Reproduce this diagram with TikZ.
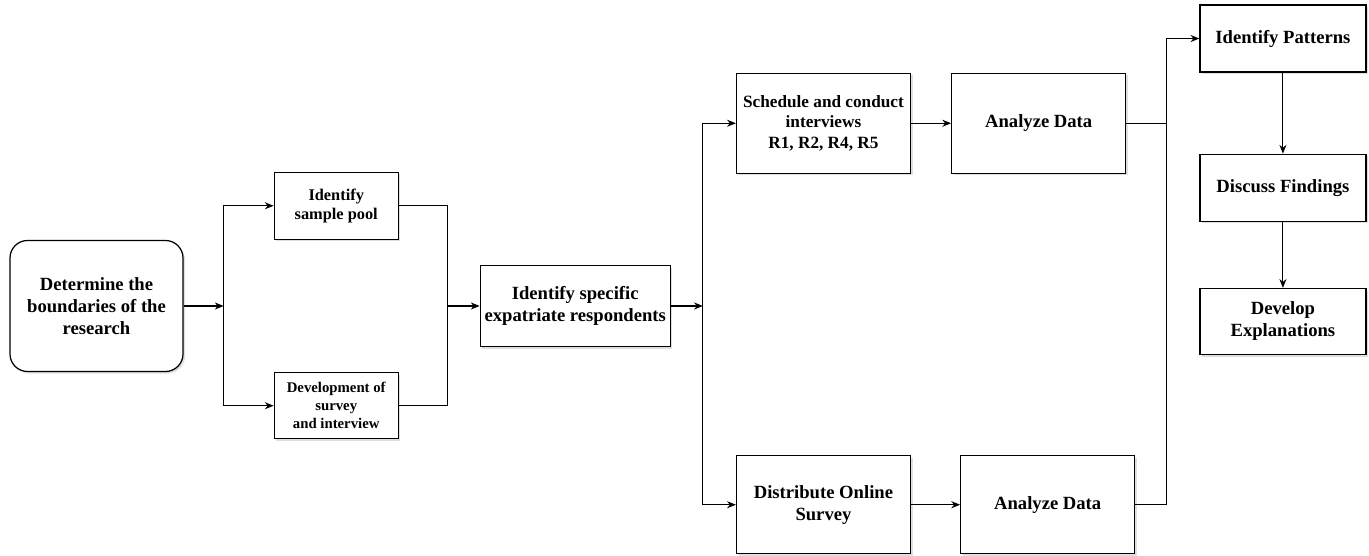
\documentclass[tikz,border=0pt]{standalone}
\usepackage{fontspec}
\setmainfont{Liberation Serif}
\usepackage{tikz}
\usetikzlibrary{positioning, arrows.meta, shadows}
\tikzset{main node/.style={rectangle, draw, line width=0.7pt, fill=white, align=center, inner sep=2pt, font=\bfseries\fontsize{10.6}{12.5}\selectfont, drop shadow={shadow xshift=1.2pt, shadow yshift=-1.2pt, opacity=0.25}},}

\begin{document}
\begin{tikzpicture}[-{Stealth[length=5pt,width=4pt]}, line width=0.6pt]
        \useasboundingbox (-1.93,-5.0) rectangle (25.45,6.12);
        % Nodes
        \node[main node, rounded corners=0.35cm, minimum width=3.46cm, minimum height=2.62cm] (1) {Determine the\\boundaries of the\\research};
        \node[main node, minimum width=2.48cm, minimum height=1.34cm, font=\bfseries\fontsize{9.3}{11}\selectfont] [above right = 0cm and 1.8cm of 1] (2) {Identify\\sample pool};
        \node[main node, minimum width=2.48cm, minimum height=1.32cm, font=\bfseries\fontsize{8.4}{10.2}\selectfont] [below right = 0cm and 1.8cm of 1] (3) {Development of\\survey\\and interview};
        \node[main node, minimum width=3.8cm, minimum height=1.62cm] [right = 5.92cm of 1] (4) {Identify specific\\expatriate respondents};
        \node[main node, minimum width=3.48cm, minimum height=2cm, font=\bfseries\fontsize{9.8}{11.8}\selectfont] [above right = 1.82cm and 1.3cm of 4] (5) {Schedule and conduct\\interviews\\R1, R2, R4, R5};
        \node[main node, minimum width=3.48cm, minimum height=1.96cm] [below right = 2.16cm and 1.3cm of 4] (6) {Distribute Online\\Survey};
        \node[main node, minimum width=3.48cm, minimum height=2cm] [right = 0.8cm of 5] (7) {Analyze Data};
        \node[main node, minimum width=3.48cm, minimum height=1.96cm] [right = 0.98cm of 6] (8) {Analyze Data};
        \node[main node, minimum width=3.32cm, minimum height=1.34cm] [above right = 0cm and 1.46cm of 7] (9) {Identify Patterns};
        \node[main node, minimum width=3.32cm, minimum height=1.34cm] [below = 1.62cm of 9] (10) {Discuss Findings};
        \node[main node, minimum width=3.32cm, minimum height=1.32cm] [below = 1.32cm of 10] (11) {Develop\\Explanations};
        % Junctions
        \coordinate[right = 0.8cm of 1] (j1);
        \coordinate[left = 0.64cm of 4] (j2);
        \coordinate[right = 0.64cm of 4] (j3);
        \coordinate[right = 0.8cm of 7] (j4);
        % Paths
        \draw (1) -- (j1);
        \draw (j1) |- (2);
        \draw (j1) |- (3);
        \draw[-] (2) -| (j2);
        \draw[-] (3) -| (j2);
        \draw (j2) -- (4);
        \draw (4) -- (j3);
        \draw (j3) |- (5);
        \draw (j3) |- (6);
        \path[draw]
        (5) edge (7)
        (6) edge (8)
        (9) edge (10)
        (10) edge (11);
        \draw[-] (7) -- (j4);
        \draw[-] (8) -| (j4);
        \draw (j4) |- (9);
    \end{tikzpicture}
\end{document}
